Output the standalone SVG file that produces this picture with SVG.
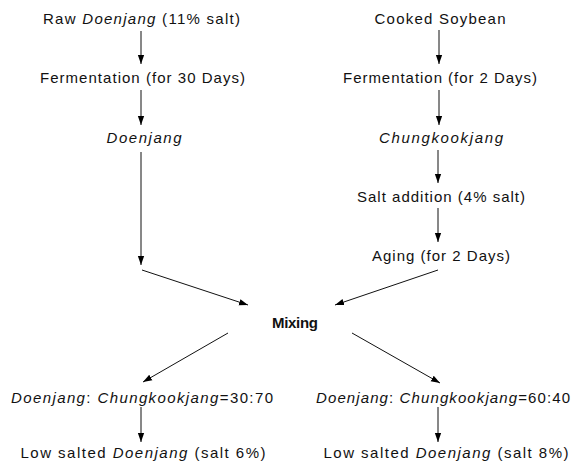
<svg xmlns="http://www.w3.org/2000/svg" width="581" height="466" viewBox="0 0 581 466">
<defs>
<marker id="ah" viewBox="0 0 10 10" refX="10" refY="5" markerWidth="9" markerHeight="9" markerUnits="userSpaceOnUse" orient="auto">
<path d="M0,1.5 L10,5 L0,8.5 Z" fill="#000"/>
</marker>
</defs>
<style>
text{font-family:"Liberation Sans",Arial,sans-serif;font-size:15px;fill:#111;text-anchor:middle}
.i{font-style:italic}
.b{font-weight:bold}
.c line{stroke:#111;stroke-width:1;marker-end:url(#ah)}
</style>
<rect width="581" height="466" fill="#fff"/>
<g id="n1"><text x="141.5" y="24" textLength="197" lengthAdjust="spacing">Raw <tspan class="i">Doenjang</tspan> (11% salt)</text></g>
<g id="n2"><text x="142.5" y="83" textLength="205" lengthAdjust="spacing">Fermentation (for 30 Days)</text></g>
<g id="n3"><text x="144" y="143" class="i" textLength="75" lengthAdjust="spacing">Doenjang</text></g>
<g id="n4"><text x="440" y="24" textLength="131" lengthAdjust="spacing">Cooked Soybean</text></g>
<g id="n5"><text x="440" y="83" textLength="194" lengthAdjust="spacing">Fermentation (for 2 Days)</text></g>
<g id="n6"><text x="441" y="143" class="i" textLength="124" lengthAdjust="spacing">Chungkookjang</text></g>
<g id="n7"><text x="441" y="202" textLength="168" lengthAdjust="spacing">Salt addition (4% salt)</text></g>
<g id="n8"><text x="441" y="261" textLength="138" lengthAdjust="spacing">Aging (for 2 Days)</text></g>
<g id="n9"><text x="295" y="328" class="b" textLength="46" lengthAdjust="spacing">Mixing</text></g>
<g id="n10"><text x="142" y="403" textLength="262" lengthAdjust="spacing"><tspan class="i">Doenjang</tspan>: <tspan class="i">Chungkookjang</tspan>=30:70</text></g>
<g id="n11"><text x="143" y="458" textLength="245" lengthAdjust="spacing">Low salted <tspan class="i">Doenjang</tspan> (salt 6%)</text></g>
<g id="n12"><text x="443" y="403" textLength="254" lengthAdjust="spacing"><tspan class="i">Doenjang</tspan>: <tspan class="i">Chungkookjang</tspan>=60:40</text></g>
<g id="n13"><text x="446" y="458" textLength="245" lengthAdjust="spacing">Low salted <tspan class="i">Doenjang</tspan> (salt 8%)</text></g>
<g id="connectors" class="c">
<line x1="141" y1="31" x2="141" y2="64"/>
<line x1="141" y1="90" x2="141" y2="125"/>
<line x1="141" y1="152" x2="141" y2="265"/>
<line x1="142" y1="270" x2="248" y2="305"/>
<line x1="439" y1="30" x2="439" y2="64"/>
<line x1="439" y1="90" x2="439" y2="125"/>
<line x1="438" y1="150" x2="438" y2="183"/>
<line x1="438" y1="208" x2="438" y2="242"/>
<line x1="438" y1="270" x2="335" y2="305"/>
<line x1="228" y1="333" x2="143" y2="382"/>
<line x1="352" y1="333" x2="440" y2="383"/>
<line x1="141" y1="407" x2="141" y2="442"/>
<line x1="438" y1="407" x2="438" y2="442"/>
</g>
</svg>
